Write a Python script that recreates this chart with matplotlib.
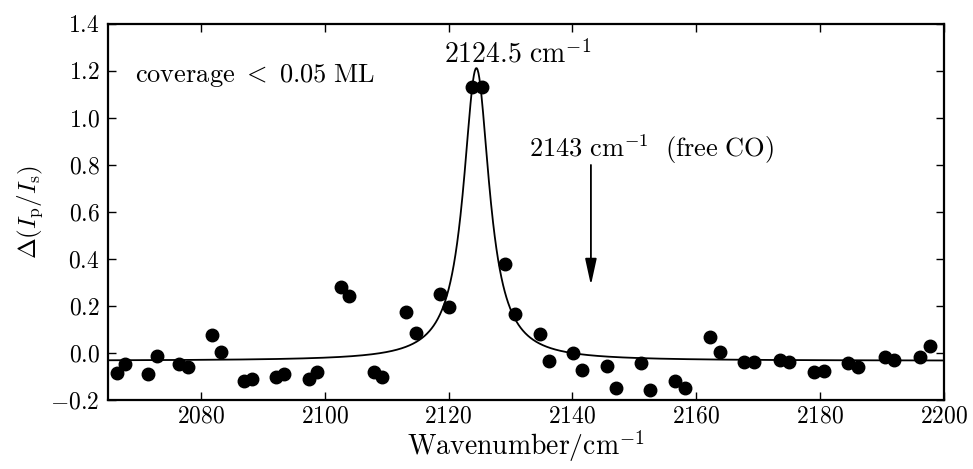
import matplotlib
matplotlib.use("Agg")
import matplotlib.pyplot as plt
import numpy as np
from matplotlib.ticker import FuncFormatter

plt.rcParams['mathtext.fontset'] = 'cm'
plt.rcParams['font.family'] = 'serif'
plt.rcParams['font.serif'] = ['cmr10', 'DejaVu Serif']

# measured points (wavenumber / cm^-1, signal)
wavenumber = [2066.4, 2067.8, 2071.5, 2072.9, 2076.5, 2078.0, 2081.8, 2083.2,
              2086.9, 2088.3, 2092.1, 2093.5, 2097.4, 2098.8, 2102.7, 2104.0,
              2107.9, 2109.3, 2113.2, 2114.7, 2118.6, 2120.0, 2123.8, 2125.4,
              2129.2, 2130.8, 2134.8, 2136.2, 2140.1, 2141.6, 2145.6, 2147.1,
              2151.1, 2152.6, 2156.6, 2158.2, 2162.3, 2163.8, 2167.8, 2169.3,
              2173.5, 2175.0, 2179.0, 2180.6, 2184.6, 2186.2, 2190.5, 2192.0,
              2196.1, 2197.7]
signal = [-0.084, -0.047, -0.089, -0.013, -0.047, -0.061, 0.077, 0.003,
          -0.119, -0.111, -0.101, -0.091, -0.111, -0.079, 0.282, 0.243,
          -0.079, -0.101, 0.173, 0.084, 0.250, 0.194, 1.133, 1.133,
          0.377, 0.166, 0.081, -0.033, 0.001, -0.072, -0.055, -0.149,
          -0.041, -0.157, -0.118, -0.150, 0.067, 0.003, -0.037, -0.040,
          -0.030, -0.038, -0.079, -0.075, -0.044, -0.058, -0.018, -0.030,
          -0.016, 0.030]

# Lorentzian fit parameters
fit_center = 2124.5
fit_hwhm = 2.55
fit_amp = 1.245
fit_offset = -0.033
free_co = 2143

fig = plt.figure(figsize=(9.73, 4.69), dpi=100)
ax = fig.add_axes([0.111, 0.147, 0.859, 0.802])

xf = np.linspace(2065, 2200, 2000)
yf = fit_offset + fit_amp * fit_hwhm**2 / ((xf - fit_center)**2 + fit_hwhm**2)
ax.plot(xf, yf, color='black', lw=1.3)
ax.plot(wavenumber, signal, 'o', color='black', markersize=9)

ax.set_xlim(2065, 2200)
ax.set_ylim(-0.2, 1.4)
ax.set_xticks(np.arange(2080, 2201, 20))
ax.set_yticks(np.arange(-0.2, 1.41, 0.2))
ax.xaxis.set_major_formatter(FuncFormatter(lambda v, p: '$%d$' % v))
ax.yaxis.set_major_formatter(FuncFormatter(lambda v, p: '$%.1f$' % v))
ax.tick_params(direction='in', top=True, right=True, length=6, width=1,
               labelsize=17)
ax.tick_params(axis='x', pad=4)
ax.tick_params(axis='y', pad=6)
for s in ax.spines.values():
    s.set_linewidth(1.6)

ax.set_xlabel(r'$\mathrm{Wavenumber/cm^{-1}}$', fontsize=20, labelpad=0)
ax.set_ylabel(r'$\Delta(I_{\rm p}/I_{\rm s})$', fontsize=18)

ax.text(2069.4, 1.154, r'$\mathrm{coverage}\ <\ 0.05\ \mathrm{ML}$', fontsize=19)
ax.text(2119.2, 1.234, r'$2124.5\ \mathrm{cm^{-1}}$', fontsize=20)
ax.text(2133.0, 0.835, r'$2143\ \mathrm{cm^{-1}}\ \ (\mathrm{free\ CO})$', fontsize=19)
ax.annotate('', xy=(free_co, 0.289), xytext=(free_co, 0.80),
            arrowprops=dict(arrowstyle='-|>,head_length=1.6,head_width=0.35',
                            color='black', lw=1.3, shrinkA=0, shrinkB=0))

fig.savefig('out.png', dpi=100)
